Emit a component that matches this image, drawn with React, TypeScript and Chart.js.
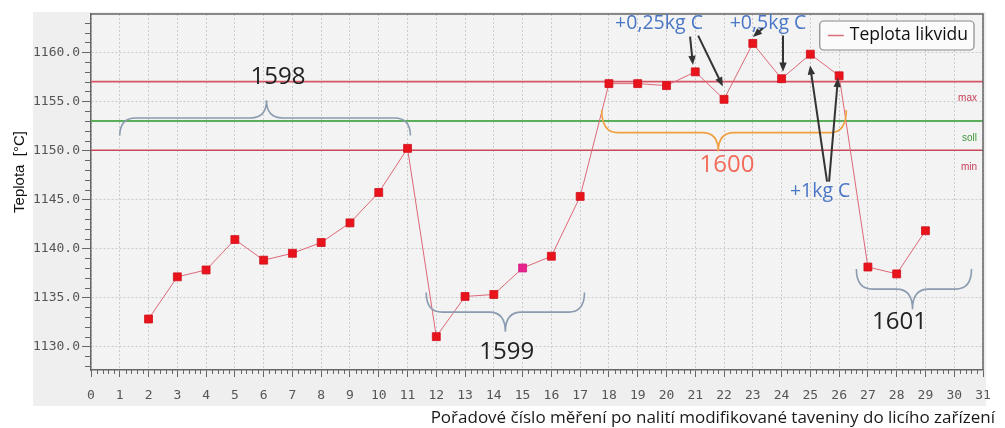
import React, { useEffect, useRef } from "react";
import { Chart, registerables } from "chart.js";

Chart.register(...registerables);

// ---------------- data ----------------
const measurementNo = [2, 3, 4, 5, 6, 7, 8, 9, 10, 11, 12, 13, 14, 15, 16, 17, 18, 19, 20, 21, 22, 23, 24, 25, 26, 27, 28, 29];
const liquidusTemp = [
  1132.8, 1137.1, 1137.8, 1140.9, 1138.8, 1139.5, 1140.6, 1142.6, 1145.7, 1150.2,
  1131.0, 1135.1, 1135.3, 1138.0, 1139.2, 1145.3,
  1156.8, 1156.8, 1156.6, 1158.0, 1155.2, 1160.9, 1157.3, 1159.8, 1157.6,
  1138.1, 1137.4, 1141.8,
];
const highlightedMeasurement = 15;

const limitMax = 1157;
const limitSoll = 1153;
const limitMin = 1150;

const xTickValues = [0, 1, 2, 3, 4, 5, 6, 7, 8, 9, 10, 11, 12, 13, 14, 15, 16, 17, 18, 19, 20, 21, 22, 23, 24, 25, 26, 27, 28, 29, 30, 31];
const yTickValues = [1130, 1135, 1140, 1145, 1150, 1155, 1160];
const xMin = 0;
const xMax = 31;
const yMin = 1127.6;
const yMax = 1163.9;

const seriesLabel = "Teplota likvidu";
const yTitle = "Teplota  [°C]";
const xTitle = "Pořadové číslo měření po nalití modifikované taveniny do licího zařízení";
const limitLabels = ["max", "soll", "min"];

// annotation groups (melt numbers), in data coordinates
const braceLabels = ["1598", "1599", "1600", "1601"];
const braceX1 = [1.0, 11.65, 17.75, 26.6];
const braceX2 = [11.1, 17.15, 26.25, 30.6];
const braceXc = [6.1, 14.4, 21.8, 28.55];
const braceYEnd = [1151.5, 1135.5, 1154.1, 1137.9];
const braceYBar = [1153.3, 1133.5, 1151.8, 1135.85];
const braceYCusp = [1155.1, 1131.5, 1149.9, 1133.8];
const braceLabelX = [6.5, 14.45, 22.1, 28.1];
const braceLabelY = [1157.5, 1129.45, 1148.5, 1132.5];

// carbon additions
const noteTexts = ["+0,25kg C", "+0,5kg C", "+1kg C"];
const noteX = [19.74, 23.53, 25.34];
const noteY = [1162.9, 1162.9, 1145.8];

// arrows: from (x1,y1) to (x2,y2)
const arrowX1 = [20.82, 21.1, 23.35, 24.05, 25.58, 25.65];
const arrowY1 = [1161.6, 1161.7, 1162.45, 1161.7, 1146.8, 1146.8];
const arrowX2 = [20.92, 21.96, 23.0, 24.05, 24.99, 25.96];
const arrowY2 = [1158.7, 1156.5, 1161.55, 1158.0, 1158.66, 1157.4];

// ---------------- helpers ----------------
function drawBrace(ctx: CanvasRenderingContext2D, x1: number, x2: number, xc: number, yEnd: number, yBar: number, yCusp: number) {
  const r = 16;
  ctx.beginPath();
  ctx.moveTo(x1, yEnd);
  ctx.quadraticCurveTo(x1, yBar, x1 + r, yBar);
  ctx.lineTo(xc - r, yBar);
  ctx.quadraticCurveTo(xc, yBar, xc, yCusp);
  ctx.quadraticCurveTo(xc, yBar, xc + r, yBar);
  ctx.lineTo(x2 - r, yBar);
  ctx.quadraticCurveTo(x2, yBar, x2, yEnd);
  ctx.stroke();
}

function drawArrow(ctx: CanvasRenderingContext2D, x1: number, y1: number, x2: number, y2: number) {
  const ang = Math.atan2(y2 - y1, x2 - x1);
  const head = 10;
  ctx.beginPath();
  ctx.moveTo(x1, y1);
  ctx.lineTo(x2 - head * 0.7 * Math.cos(ang), y2 - head * 0.7 * Math.sin(ang));
  ctx.stroke();
  ctx.beginPath();
  ctx.moveTo(x2, y2);
  ctx.lineTo(x2 - head * Math.cos(ang - 0.38), y2 - head * Math.sin(ang - 0.38));
  ctx.lineTo(x2 - head * Math.cos(ang + 0.38), y2 - head * Math.sin(ang + 0.38));
  ctx.closePath();
  ctx.fill();
}

const decorPlugin = {
  id: "decor",
  beforeDraw(chart: any) {
    const { ctx, chartArea: ca } = chart;
    ctx.save();
    ctx.fillStyle = "#ffffff";
    ctx.fillRect(0, 0, chart.width, chart.height);
    ctx.fillStyle = "#efefef";
    ctx.fillRect(ca.left - 58, ca.top - 2, ca.right + 3 - (ca.left - 58), ca.bottom + 36 - (ca.top - 2));
    ctx.fillStyle = "#f3f3f3";
    ctx.fillRect(ca.left, ca.top, ca.right - ca.left, ca.bottom - ca.top);
    ctx.restore();
  },
  afterDraw(chart: any) {
    const { ctx, chartArea: ca } = chart;
    const xs = chart.scales.x;
    const ys = chart.scales.y;
    ctx.save();

    // frame (top / right)
    ctx.strokeStyle = "#666";
    ctx.lineWidth = 1.5;
    ctx.beginPath();
    ctx.moveTo(ca.left, ca.top);
    ctx.lineTo(ca.right, ca.top);
    ctx.lineTo(ca.right, ca.bottom);
    ctx.stroke();

    // minor ticks
    ctx.lineWidth = 1;
    ctx.strokeStyle = "#666";
    ctx.beginPath();
    for (let v = Math.ceil(yMin); v <= Math.floor(yMax); v++) {
      if (v % 5 === 0) continue;
      const y = Math.round(ys.getPixelForValue(v)) + 0.5;
      ctx.moveTo(ca.left - 6, y);
      ctx.lineTo(ca.left, y);
    }
    for (let i = 0; i <= (xMax - xMin) * 5; i++) {
      if (i % 5 === 0) continue;
      const x = Math.round(xs.getPixelForValue(xMin + i / 5)) + 0.5;
      ctx.moveTo(x, ca.bottom);
      ctx.lineTo(x, ca.bottom + 4);
    }
    ctx.stroke();

    // limit labels
    ctx.font = '10px "Liberation Sans"';
    ctx.textAlign = "right";
    ctx.textBaseline = "middle";
    const limits = [limitMax, limitSoll, limitMin];
    const limitColors = ["#c8405a", "#3f9a3f", "#c8405a"];
    limits.forEach((lv, i) => {
      ctx.fillStyle = limitColors[i];
      ctx.fillText(limitLabels[i], ca.right - 6, ys.getPixelForValue(lv) + 17);
    });

    // braces + melt numbers
    const braceColors = ["#8b9bb0", "#8b9bb0", "#f0a040", "#8b9bb0"];
    const braceText = ["#222222", "#222222", "#f26b5b", "#222222"];
    braceLabels.forEach((lbl, i) => {
      ctx.strokeStyle = braceColors[i];
      ctx.lineWidth = 1.6;
      drawBrace(
        ctx,
        xs.getPixelForValue(braceX1[i]),
        xs.getPixelForValue(braceX2[i]),
        xs.getPixelForValue(braceXc[i]),
        ys.getPixelForValue(braceYEnd[i]),
        ys.getPixelForValue(braceYBar[i]),
        ys.getPixelForValue(braceYCusp[i])
      );
      ctx.fillStyle = braceText[i];
      ctx.font = '24px "Open Sans"';
      ctx.textAlign = "center";
      ctx.textBaseline = "middle";
      ctx.fillText(lbl, xs.getPixelForValue(braceLabelX[i]), ys.getPixelForValue(braceLabelY[i]));
    });

    // carbon notes
    ctx.fillStyle = "#4a76c6";
    ctx.font = '19.5px "Open Sans"';
    ctx.textAlign = "center";
    ctx.textBaseline = "middle";
    noteTexts.forEach((t, i) => {
      ctx.fillText(t, xs.getPixelForValue(noteX[i]), ys.getPixelForValue(noteY[i]));
    });

    // arrows
    ctx.strokeStyle = "#333";
    ctx.fillStyle = "#333";
    ctx.lineWidth = 2;
    arrowX1.forEach((_, i) => {
      drawArrow(
        ctx,
        xs.getPixelForValue(arrowX1[i]),
        ys.getPixelForValue(arrowY1[i]),
        xs.getPixelForValue(arrowX2[i]),
        ys.getPixelForValue(arrowY2[i])
      );
    });

    // legend
    ctx.font = '17.5px "Open Sans"';
    const tw = ctx.measureText(seriesLabel).width;
    const bw = tw + 36;
    const bh = 29;
    const bx = ca.right - 9 - bw;
    const by = ca.top + 7;
    ctx.fillStyle = "#fbfbfb";
    ctx.strokeStyle = "#8a8a8a";
    ctx.lineWidth = 1.2;
    ctx.beginPath();
    if ((ctx as any).roundRect) (ctx as any).roundRect(bx, by, bw, bh, 4);
    else ctx.rect(bx, by, bw, bh);
    ctx.fill();
    ctx.stroke();
    ctx.strokeStyle = "#d8707e";
    ctx.lineWidth = 1.5;
    ctx.beginPath();
    ctx.moveTo(bx + 8, by + bh / 2);
    ctx.lineTo(bx + 24, by + bh / 2);
    ctx.stroke();
    ctx.fillStyle = "#111";
    ctx.textAlign = "left";
    ctx.textBaseline = "middle";
    ctx.fillText(seriesLabel, bx + 30, by + bh / 2);

    // axis titles
    ctx.fillStyle = "#111";
    ctx.font = '15px "Liberation Sans"';
    ctx.textAlign = "center";
    ctx.textBaseline = "middle";
    ctx.save();
    ctx.translate(20, 172);
    ctx.rotate(-Math.PI / 2);
    ctx.fillText(yTitle, 0, 0);
    ctx.restore();

    ctx.font = '17px "Open Sans"';
    ctx.textAlign = "right";
    ctx.fillStyle = "#1a1a1a";
    ctx.fillText(xTitle, 995, 418);

    ctx.restore();
  },
};

export default function App() {
  const canvasRef = useRef<HTMLCanvasElement | null>(null);

  useEffect(() => {
    if (!canvasRef.current) return;
    const tickFont = { family: '"DejaVu Sans Mono", monospace', size: 13 };
    const chart = new Chart(canvasRef.current, {
      type: "line",
      data: {
        datasets: [
          {
            label: seriesLabel,
            data: measurementNo.map((x, i) => ({ x, y: liquidusTemp[i] })),
            borderColor: "#de6878",
            borderWidth: 1,
            tension: 0,
            pointStyle: "rect",
            pointRadius: 5.6,
            pointBackgroundColor: measurementNo.map((x) => (x === highlightedMeasurement ? "#e8228c" : "#e8131b")),
            pointBorderColor: measurementNo.map((x) => (x === highlightedMeasurement ? "#d01a7a" : "#d0101a")),
            pointBorderWidth: 0.8,
            order: 0,
          },
          {
            label: "max",
            data: [{ x: xMin, y: limitMax }, { x: xMax, y: limitMax }],
            borderColor: "#d65666",
            borderWidth: 1.6,
            pointRadius: 0,
            order: 1,
          },
          {
            label: "soll",
            data: [{ x: xMin, y: limitSoll }, { x: xMax, y: limitSoll }],
            borderColor: "#5aae5a",
            borderWidth: 2,
            pointRadius: 0,
            order: 1,
          },
          {
            label: "min",
            data: [{ x: xMin, y: limitMin }, { x: xMax, y: limitMin }],
            borderColor: "#c84a58",
            borderWidth: 1.6,
            pointRadius: 0,
            order: 1,
          },
        ],
      },
      options: {
        animation: false,
        responsive: false,
        devicePixelRatio: 1,
        layout: { padding: { top: 14, right: 22, left: 0, bottom: 0 } },
        plugins: {
          legend: { display: false },
          tooltip: { enabled: false },
          title: { display: false },
        },
        scales: {
          x: {
            type: "linear",
            min: xMin,
            max: xMax,
            afterBuildTicks: (s: any) => {
              s.ticks = xTickValues.map((v) => ({ value: v }));
            },
            afterFit: (s: any) => {
              s.height = 58;
            },
            ticks: {
              font: tickFont,
              color: "#555",
              padding: 11,
              autoSkip: false,
              maxRotation: 0,
              callback: (v: any) => String(v),
            },
            grid: { color: "#cbcbcb", lineWidth: 1, tickColor: "#666", tickLength: 7, drawTicks: true },
            border: { display: true, color: "#666", width: 1.5, dash: [2, 2] },
          },
          y: {
            type: "linear",
            min: yMin,
            max: yMax,
            afterBuildTicks: (s: any) => {
              s.ticks = yTickValues.map((v) => ({ value: v }));
            },
            afterFit: (s: any) => {
              s.width = 91;
            },
            ticks: {
              font: tickFont,
              color: "#555",
              padding: 2,
              callback: (v: any) => Number(v).toFixed(1),
            },
            grid: { color: "#cbcbcb", lineWidth: 1, tickColor: "#666", tickLength: 9, drawTicks: true },
            border: { display: true, color: "#666", width: 1.5, dash: [2, 2] },
          },
        },
      },
      plugins: [decorPlugin],
    } as any);
    return () => chart.destroy();
  }, []);

  return (
    <div style={{ position: "absolute", left: 0, top: 0, width: 1005, height: 428, background: "#fff" }}>
      <canvas ref={canvasRef} width={1005} height={428} style={{ display: "block" }} />
    </div>
  );
}
